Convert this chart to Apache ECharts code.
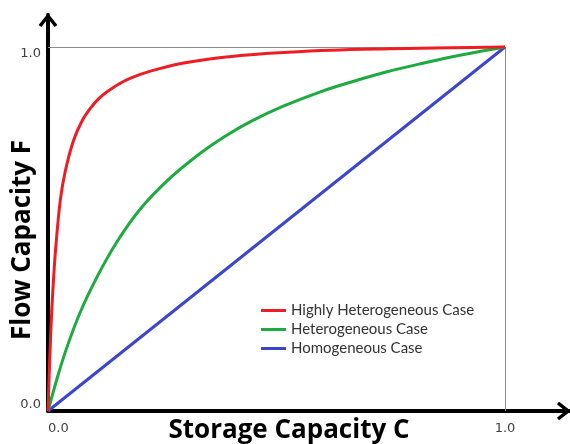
<!DOCTYPE html>
<html>
<head>
<meta charset="utf-8">
<title>Flow Capacity vs Storage Capacity</title>
<script src="https://cdn.jsdelivr.net/npm/echarts@6/dist/echarts.min.js"></script>
<style>
  html, body { margin: 0; padding: 0; background: #ffffff; }
  #chart { width: 570px; height: 444px; }
</style>
</head>
<body>
<div id="chart"></div>
<script>
// Storage capacity (C) and flow capacity (F) for each case
const redC = [0, 0.004, 0.008, 0.012, 0.017, 0.027, 0.038, 0.056, 0.075, 0.093, 0.11, 0.13, 0.166, 0.202, 0.242, 0.297, 0.37, 0.443, 0.516, 0.618, 0.75, 0.88, 1];
const redF = [0, 0.15, 0.27, 0.36, 0.45, 0.58, 0.66, 0.744, 0.798, 0.832, 0.857, 0.878, 0.906, 0.925, 0.94, 0.956, 0.97, 0.979, 0.985, 0.991, 0.995, 0.998, 1];

const greenC = [0, 0.02, 0.04, 0.07, 0.108, 0.151, 0.202, 0.268, 0.334, 0.385, 0.443, 0.516, 0.596, 0.669, 0.742, 0.815, 0.888, 1];
const greenF = [0, 0.09, 0.17, 0.27, 0.37, 0.465, 0.555, 0.641, 0.709, 0.753, 0.795, 0.838, 0.877, 0.906, 0.932, 0.954, 0.974, 1];

const blueC = [0, 1];
const blueF = [0, 1];

const seriesNames = ['Highly Heterogeneous Case', 'Heterogeneous Case', 'Homogeneous Case'];
const seriesColors = ['#ee1d23', '#1dab3f', '#3c46cc'];

const xTickLabels = { 0: '0.0', 1: '1.0' };
const yTickLabels = { 0: '0.0', 1: '1.0' };

const xAxisTitle = 'Storage Capacity C';
const yAxisTitle = 'Flow Capacity F';

// axis extents beyond the unit box, leaving room for the arrow heads
const xAxisEnd = 1.14;
const yAxisEnd = 1.088;

function pairs(xs, ys) {
  return xs.map((x, i) => [x, ys[i]]);
}

const chart = echarts.init(document.getElementById('chart'), null, { renderer: 'canvas' });

const lineSeries = (name, data, color) => ({
  name: name,
  type: 'line',
  data: data,
  showSymbol: false,
  symbol: 'none',
  smooth: 0.35,
  lineStyle: { color: color, width: 3 },
  itemStyle: { color: color },
  z: 3
});

const axisLine = {
  show: true,
  onZero: false,
  lineStyle: { color: '#000000', width: 4 }
};

const tickLabelStyle = {
  show: true,
  color: '#404040',
  fontFamily: 'DejaVu Sans',
  fontSize: 13,
  showMaxLabel: false
};

chart.setOption({
  animation: false,
  backgroundColor: '#ffffff',
  grid: { left: 48, right: 1, top: 15, bottom: 33 },
  xAxis: {
    type: 'value',
    min: 0,
    max: xAxisEnd,
    interval: 1,
    splitLine: { show: false },
    axisTick: { show: false },
    axisLine: axisLine,
    axisLabel: Object.assign({}, tickLabelStyle, {
      margin: 11,
      alignMinLabel: 'left',
      formatter: v => xTickLabels[v] !== undefined ? xTickLabels[v] : ''
    })
  },
  yAxis: {
    type: 'value',
    min: 0,
    max: yAxisEnd,
    interval: 1,
    splitLine: { show: false },
    axisTick: { show: false },
    axisLine: axisLine,
    axisLabel: Object.assign({}, tickLabelStyle, {
      margin: 7,
      verticalAlign: 'top',
      verticalAlignMinLabel: 'bottom',
      formatter: v => yTickLabels[v] !== undefined ? yTickLabels[v] : ''
    })
  },
  legend: {
    orient: 'vertical',
    left: 256,
    top: 298,
    itemWidth: 25,
    itemHeight: 3,
    itemGap: 4,
    icon: 'rect',
    textStyle: { fontFamily: 'Lato', fontSize: 15, color: '#333333' },
    data: seriesNames
  },
  series: [
    lineSeries(seriesNames[2], pairs(blueC, blueF), seriesColors[2]),
    lineSeries(seriesNames[1], pairs(greenC, greenF), seriesColors[1]),
    Object.assign(lineSeries(seriesNames[0], pairs(redC, redF), seriesColors[0]), {
      // unit box: top edge at F = 1 and right edge at C = 1
      markLine: {
        silent: true,
        symbol: 'none',
        label: { show: false },
        lineStyle: { color: '#8c8c8c', width: 1, type: 'solid' },
        z: 1,
        data: [
          [{ coord: [0, 1] }, { coord: [1, 1] }],
          [{ coord: [1, 0] }, { coord: [1, 1] }]
        ]
      }
    })
  ]
});

// Open arrow heads at the far ends of both axes, plus the axis titles
const xTip = chart.convertToPixel({ gridIndex: 0 }, [xAxisEnd, 0]);
const yTip = chart.convertToPixel({ gridIndex: 0 }, [0, yAxisEnd]);
const arrowLen = 11;
const arrowHalf = 8;
const arrowStyle = { stroke: '#000000', lineWidth: 3.5, fill: null, lineJoin: 'miter', lineCap: 'butt' };

chart.setOption({
  graphic: [
    {
      type: 'polyline',
      shape: { points: [[xTip[0] - arrowLen, xTip[1] - arrowHalf], [xTip[0] - 1, xTip[1]], [xTip[0] - arrowLen, xTip[1] + arrowHalf]] },
      style: arrowStyle,
      z: 10
    },
    {
      type: 'polyline',
      shape: { points: [[yTip[0] - arrowHalf, yTip[1] + arrowLen], [yTip[0], yTip[1] + 1], [yTip[0] + arrowHalf, yTip[1] + arrowLen]] },
      style: arrowStyle,
      z: 10
    },
    {
      type: 'text',
      x: 289,
      y: 431,
      style: {
        text: xAxisTitle,
        fontFamily: 'Open Sans',
        fontWeight: 'bold',
        fontSize: 26,
        fill: '#000000',
        align: 'center',
        verticalAlign: 'middle'
      }
    },
    {
      type: 'text',
      x: 23,
      y: 240,
      rotation: Math.PI / 2,
      style: {
        text: yAxisTitle,
        fontFamily: 'Open Sans',
        fontWeight: 'bold',
        fontSize: 26,
        fill: '#000000',
        align: 'center',
        verticalAlign: 'middle'
      }
    }
  ]
});
</script>
</body>
</html>
